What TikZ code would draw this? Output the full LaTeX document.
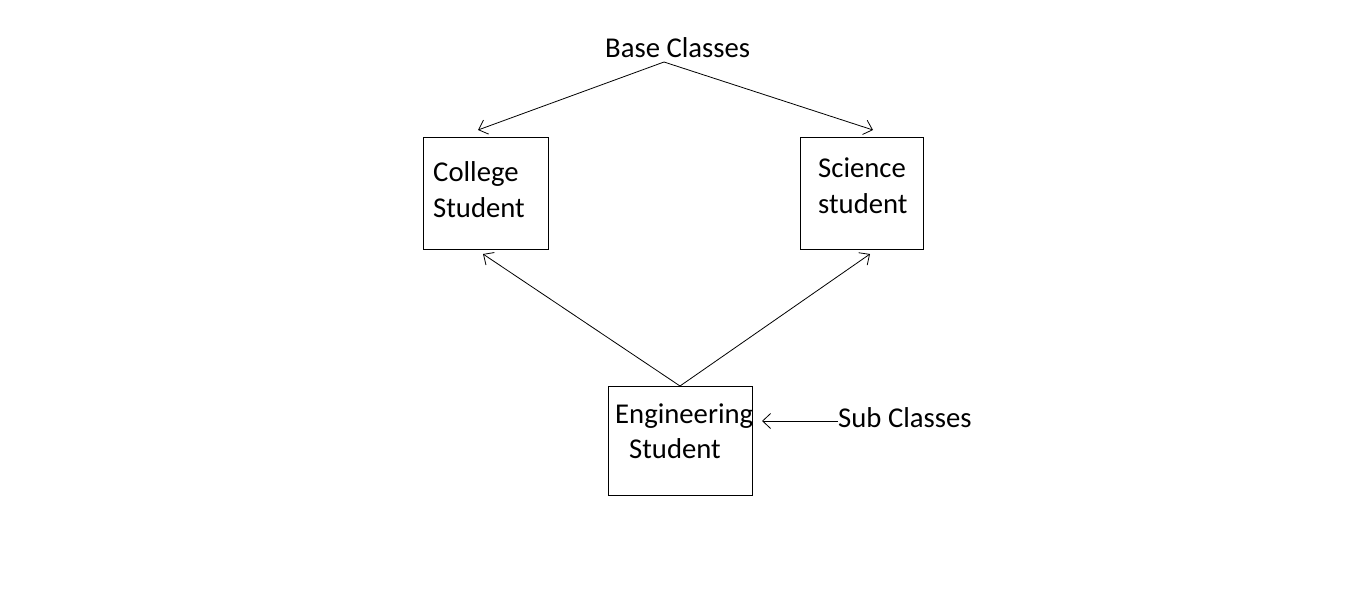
\documentclass[tikz,border=0pt]{standalone}
\usepackage{fontspec}
\setmainfont{Carlito}
\usetikzlibrary{arrows.meta}
\begin{document}
\begin{tikzpicture}[x=1pt,y=-1pt,
  boxline/.style={draw=black,line width=0.8pt},
  txt/.style={inner sep=0pt,anchor=base west,font=\fontsize{28.7}{34}\selectfont},
  arr/.style={draw=black,line width=0.8pt,-{Straight Barb[length=8pt,width=15pt]}}]
\useasboundingbox[fill=white] (0,0) rectangle (1346,600);
% boxes
\draw[boxline] (423,137) rectangle (548,249);
\draw[boxline] (800,137) rectangle (923,249);
\draw[boxline] (608,386) rectangle (752,495);
% texts
\node[txt] (base) at (605,57) {Base Classes};
\node[txt] (col1) at (433,181) {College};
\node[txt] (col2) at (433,217) {Student};
\node[txt] (sci1) at (818,177) {Science};
\node[txt] (sci2) at (818,213) {student};
\node[txt] (eng1) at (615,423) {Engineering};
\node[txt] (eng2) at (629,458) {Student};
\node[txt] (sub) at (838,427) {Sub Classes};
% coordinates
\coordinate (bc) at (664,62);
\coordinate (colt) at (478,130);
\coordinate (scit) at (873,130);
\coordinate (engt) at (680,386);
\coordinate (colb) at (483,254);
\coordinate (scib) at (870,254);
\coordinate (subw) at (838,421);
\coordinate (engr) at (762,421);
% arrows
\draw[arr] (bc) -- (colt);
\draw[arr] (bc) -- (scit);
\draw[arr] (engt) -- (colb);
\draw[arr] (engt) -- (scib);
\draw[arr] (subw) -- (engr);
\end{tikzpicture}
\end{document}
